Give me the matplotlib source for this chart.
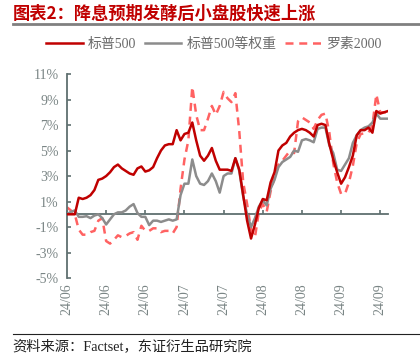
import numpy as np
import matplotlib.pyplot as plt
from matplotlib.lines import Line2D

plt.rcParams['font.family'] = ['Liberation Serif', 'Noto Sans CJK SC']

# cumulative return (%), one value per trading day
sp500 = [0.0, 0.0, 0.0, 1.3, 1.2, 1.3, 1.5, 1.9, 2.7, 2.8,
         3.0, 3.3, 3.7, 3.9, 3.6, 3.4, 3.2, 3.1, 3.6, 3.75,
         3.35, 3.45, 3.7, 4.4, 5.0, 5.4, 5.5, 5.5, 6.6, 5.8,
         6.3, 6.4, 7.2, 5.8, 4.6, 4.2, 4.6, 5.2, 4.2, 3.5,
         3.5, 3.5, 3.4, 4.4, 3.5, 1.5, -0.5, -1.9, -0.8, 0.5,
         1.2, 1.1, 2.5, 3.3, 5.0, 5.4, 5.6, 6.1, 6.4, 6.6,
         6.7, 6.6, 6.4, 6.1, 7.0, 7.1, 7.0, 5.5, 4.3, 3.3,
         2.4, 2.9, 3.7, 4.6, 6.2, 6.6, 6.6, 6.8, 6.4, 8.1,
         7.9, 8.0, 8.1]
sp500_ew = [0.0, 0.2, 0.3, -0.2, -0.2, -0.15, -0.3, -0.1, 0.0, -0.3,
            -0.8, -0.4, 0.0, 0.15, 0.15, 0.3, 0.6, 0.8, 0.1, -0.2,
            -0.2, -0.85, -0.5, -0.5, -0.6, -0.5, -0.4, -0.5, -0.4, 1.5,
            2.4, 2.4, 4.3, 3.0, 2.4, 2.3, 2.6, 3.2, 2.6, 1.7,
            3.0, 3.2, 3.2, 4.4, 3.4, 1.4, 0.0, -1.0, -0.3, 0.6,
            1.1, 0.7, 2.0, 2.7, 3.7, 4.1, 4.3, 4.5, 5.0, 4.9,
            5.8, 5.9, 5.8, 5.65, 6.7, 6.8, 6.8, 5.4, 4.8, 3.5,
            3.4, 3.9, 4.4, 5.6, 6.2, 6.6, 6.8, 6.9, 7.2, 7.9,
            7.5, 7.5, 7.5]
russell2000 = [0.55, 0.3, 0.0, -1.2, -1.6, -1.6, -1.4, -1.3, -0.5, -0.3,
               -2.1, -2.3, -2.0, -1.65, -1.8, -1.7, -1.5, -1.4, -2.0, -0.9,
               -1.3, -1.3, -1.1, -1.1, -1.4, -1.3, -1.3, -1.5, -1.0, 2.0,
               4.3, 5.8, 10.0, 7.8, 6.6, 6.6, 7.5, 8.5, 7.8, 8.5,
               9.6, 9.1, 8.8, 9.5, 6.5, 2.5, 0.8, -1.2, -1.8, 0.2,
               0.8, 0.2, 1.8, 2.9, 3.9, 4.2, 4.6, 5.0, 4.8, 7.3,
               7.6, 7.4, 7.2, 6.7, 7.4, 7.8, 7.9, 6.4, 4.0, 2.5,
               1.6, 1.6, 2.5, 3.8, 5.6, 6.3, 6.35, 6.4, 7.0, 9.4,
               8.0, 8.0, 8.0]

tick_pos = [0, 10, 20, 30, 40, 50, 60, 70, 80]
tick_labels = ['24/06', '24/06', '24/06', '24/07', '24/07',
               '24/08', '24/08', '24/09', '24/09']
y_ticks = [-5, -3, -1, 1, 3, 5, 7, 9, 11]

RED = '#c00000'
GRAY = '#8c8c8c'
PINK = '#ff6262'
AXIS = '#5f6f6f'
LABEL = '#7a8585'
LW = 1.8

fig = plt.figure(figsize=(4.2, 3.56), dpi=100)
ax = fig.add_axes([0.1595, 0.219, 0.7645, 0.573])

x = np.arange(len(sp500))

ax.plot(x, russell2000, color=PINK, lw=LW, ls=(0, (3.2, 2.3)), zorder=2)
ax.plot(x, sp500_ew, color=GRAY, lw=LW, zorder=3)
ax.plot(x, sp500, color=RED, lw=LW, zorder=4)

ax.set_xlim(0, len(sp500) - 1)
ax.set_ylim(-5, 11)

# --------------------------
# axes styling
# --------------------------

for side in ['top', 'right']:
    ax.spines[side].set_visible(False)

ax.spines['bottom'].set_position(('data', 0))
ax.spines['bottom'].set_color(AXIS)
ax.spines['bottom'].set_linewidth(1.3)
ax.spines['left'].set_color(AXIS)
ax.spines['left'].set_linewidth(1.3)

ax.set_yticks(y_ticks)
ax.set_yticklabels([f'{v}%' for v in y_ticks])
ax.set_xticks(tick_pos)
ax.set_xticklabels(tick_labels, rotation=90)

ax.tick_params(axis='y', direction='in', length=3, width=1.2,
               color=AXIS, labelcolor=LABEL, labelsize=10, pad=6)
ax.tick_params(axis='x', direction='in', length=3, width=1.2,
               color=AXIS, labelcolor=LABEL, labelsize=10, pad=50)

# --------------------------
# legend
# --------------------------

handles = [
    Line2D([], [], color=RED, lw=LW),
    Line2D([], [], color=GRAY, lw=LW),
    Line2D([], [], color=PINK, lw=LW, ls=(0, (3.2, 2.3))),
]
fig.legend(handles, ['标普500', '标普500等权重', '罗素2000'],
           loc='center', bbox_to_anchor=(0.51, 0.876), ncol=3,
           frameon=False, fontsize=10, labelcolor='#6a6a6a',
           handlelength=2.6, handletextpad=0.4, columnspacing=0.6)

# --------------------------
# title and source
# --------------------------

fig.text(0.03, 0.962, '图表2：降息预期发酵后小盘股快速上涨',
         color=RED, fontsize=12.4, fontweight='bold', va='center',
         family=['Noto Sans CJK SC'])
fig.add_artist(Line2D([0.03, 1.0], [0.932, 0.932], color='#808080',
                      lw=2, transform=fig.transFigure))
fig.add_artist(Line2D([0.03, 1.0], [0.062, 0.062], color='#222222',
                      lw=0.8, transform=fig.transFigure))
fig.text(0.03, 0.027, '资料来源：Factset，东证衍生品研究院',
         color='#222222', fontsize=10.3, va='center')

fig.savefig('out.png', dpi=100)
